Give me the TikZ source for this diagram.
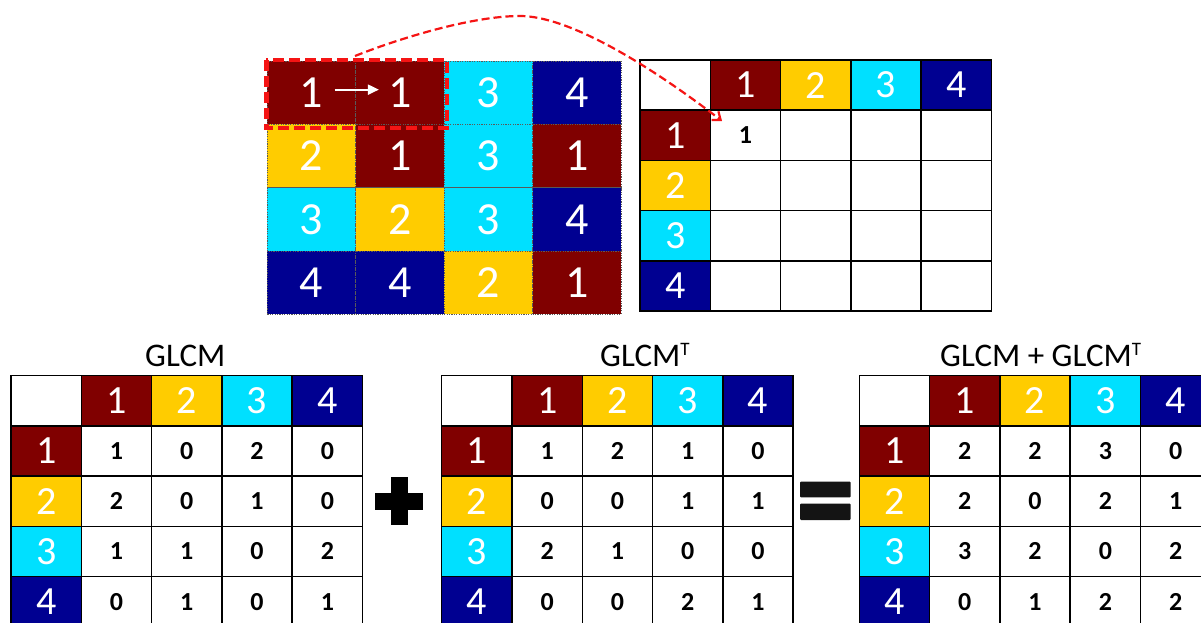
\documentclass[tikz,border=0pt]{standalone}
\usepackage{fontspec}
\setmainfont{Carlito}
\usetikzlibrary{arrows.meta}
\definecolor{cA}{RGB}{128,0,0}
\definecolor{cB}{RGB}{255,204,0}
\definecolor{cC}{RGB}{0,224,255}
\definecolor{cD}{RGB}{0,0,145}
\definecolor{redd}{RGB}{245,20,20}
\definecolor{eqblack}{RGB}{20,20,20}
\tikzset{
  gcell/.style={minimum width=88.4pt, minimum height=63.3pt, inner sep=0pt,
    draw=black!65, dash pattern=on 1.2pt off 1.2pt, line width=0.6pt,
    text=white, font=\fontsize{46}{46}\selectfont},
  mcell/.style={minimum width=70.3pt, minimum height=50.2pt, inner sep=0pt,
    draw=black, line width=1.5pt},
  hcell/.style={mcell, text=white, font=\fontsize{40}{40}\selectfont},
  vcell/.style={mcell, fill=white, font=\bfseries\fontsize{26}{26}\selectfont},
  ttl/.style={font=\fontsize{33}{33}\selectfont, inner sep=0pt, anchor=base west},
  selbox/.style={draw=redd, line width=4.5pt, dash pattern=on 11pt off 5pt},
  curvearrow/.style={draw=redd, line width=2.2pt, dash pattern=on 8pt off 4pt,
    -{Straight Barb[length=7pt,width=11pt]}},
  whitearrow/.style={draw=white, line width=2pt, -{Triangle[length=11pt,width=10pt]}},
  opsign/.style={fill=black}
}
\newcommand\mymat[4]{%
  \node[mcell, fill=white] (#1-00) at ({#2+35.15},{#3+25.1}) {};
  \foreach \col [count=\c] in {cA,cB,cC,cD} {
    \node[hcell, fill=\col] (#1-0\c) at ({#2+70.3*\c+35.15},{#3+25.1}) {\c};
    \node[hcell, fill=\col] (#1-\c0) at ({#2+35.15},{#3+50.2*\c+25.1}) {\c};
  }
  \foreach \rowvals [count=\r] in {#4} {
    \foreach \v [count=\c] in \rowvals {
      \node[vcell] (#1-\r\c) at ({#2+70.3*\c+35.15},{#3+50.2*\r+25.1}) {\v};
    }
  }
}
\newcommand\supT{\raisebox{11.5pt}{\fontsize{19}{19}\selectfont T}}
\begin{document}
\begin{tikzpicture}[x=1pt,y=-1pt]
\useasboundingbox (0,0) rectangle (1201,623);
\clip (0,0) rectangle (1201,623);
% input image grid
\foreach \r/\c/\d/\col in {1/1/1/cA, 1/2/1/cA, 1/3/3/cC, 1/4/4/cD,
                           2/1/2/cB, 2/2/1/cA, 2/3/3/cC, 2/4/1/cA,
                           3/1/3/cC, 3/2/2/cB, 3/3/3/cC, 3/4/4/cD,
                           4/1/4/cD, 4/2/4/cD, 4/3/2/cB, 4/4/1/cA}
  \node[gcell, fill=\col] (g\r\c) at ({267.3+88.4*(\c-0.5)},{61+63.3*(\r-0.5)}) {\d};
\draw[whitearrow] ([xshift=23pt,yshift=3pt]g11.center) -- ([xshift=-21pt,yshift=3pt]g12.center);
\draw[selbox] ([shift={(-0.6,-0.7)}]g11.north west) rectangle ([shift={(2.5,3.5)}]g12.south east);
% top-right counting matrix
\mymat{t}{640}{60}{{1,\relax,\relax,\relax},{\relax,\relax,\relax,\relax},{\relax,\relax,\relax,\relax},{\relax,\relax,\relax,\relax}}
% curved arrow
\coordinate (aS) at (355,56);
\coordinate (aP) at (520,16);
\coordinate (aE) at (722,121);
\draw[curvearrow] (aS) .. controls (395,40) and (470,16) .. (aP) .. controls (565,16) and (640,58) .. (aE);
% bottom matrices
\mymat{a}{11}{375.7}{{1,0,2,0},{2,0,1,0},{1,1,0,2},{0,1,0,1}}
\mymat{b}{441.7}{375.7}{{1,2,1,0},{0,0,1,1},{2,1,0,0},{0,0,2,1}}
\mymat{s}{859.3}{375.7}{{2,2,3,0},{2,0,2,1},{3,2,0,2},{0,1,2,2}}
\node[ttl] (ta) at (145,366.7) {GLCM};
\node[ttl] (tb) at (600,366.7) {GLCM\supT};
\node[ttl] (ts) at (940,366.7) {GLCM + GLCM\supT};
% plus and equals
\fill[opsign] (375,492.5) rectangle (423,509.5);
\fill[opsign] (390.5,477) rectangle (407.5,525);
\fill[eqblack, rounded corners=1pt] (800,481.7) rectangle (850.7,497.3);
\fill[eqblack, rounded corners=1pt] (800,503.5) rectangle (850.7,520);
\end{tikzpicture}
\end{document}
